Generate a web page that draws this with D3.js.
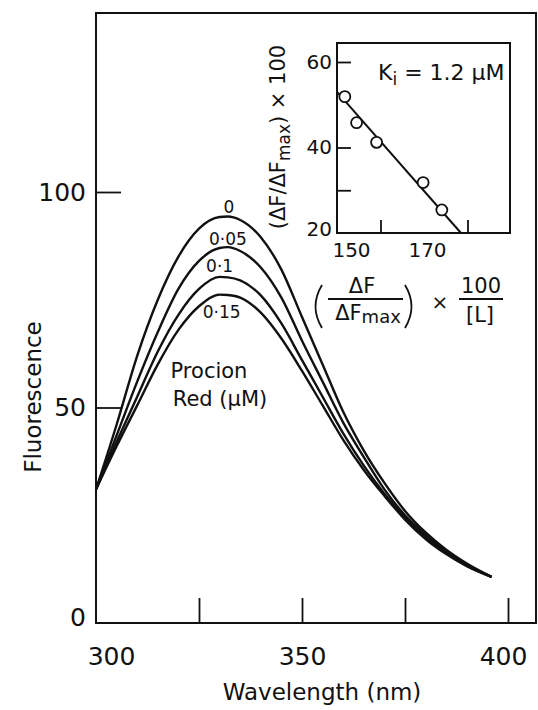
<!DOCTYPE html>
<html>
<head>
<meta charset="utf-8">
<script src="https://cdn.jsdelivr.net/npm/d3@7"></script>
<style>
  body { margin: 0; background: #fff; }
  text { font-family: "DejaVu Sans", sans-serif; fill: #111; }
</style>
</head>
<body>
<div id="chart"></div>
<script>
// emission spectra
var wavelengths = [300, 305, 310, 315, 320, 325, 330, 332, 335, 340, 345, 350, 355, 360, 365, 370, 375, 380, 385, 390, 396];
var concLabels = ["0", "0·05", "0·1", "0·15"];
var fl0    = [31, 46, 62, 75, 85, 91.5, 94.2, 94.3, 93.5, 89.5, 82, 71, 60, 49, 40, 32.5, 26, 21, 17, 13.8, 10.7];
var fl005  = [31, 43.5, 56, 67.5, 77.5, 84, 87, 87.2, 86.3, 82.5, 75.5, 65.5, 56, 46.5, 38.5, 31, 25, 20.5, 16.5, 13.5, 10.7];
var fl01   = [31, 42, 52.5, 63, 71.5, 77.5, 80.3, 80.2, 79.5, 76, 69.5, 61, 52.5, 44, 36.5, 30, 24.5, 20, 16.2, 13.3, 10.7];
var fl015  = [31, 41, 50.5, 60, 68, 73.5, 76.2, 76.1, 75.5, 72, 66, 58.5, 50.5, 42.5, 35.5, 29.5, 24, 19.5, 16, 13.2, 10.7];

var xTicks = [325, 350, 375, 400];
var xLabels = [300, 350, 400];
var yTicks = [50, 100];
var yLabels = [0, 50, 100];

// inset: Dixon-type plot
var insetX = [151.8, 154.5, 159.1, 169.8, 174.1];
var insetY = [51.9, 45.8, 41.2, 31.8, 25.4];
var fitX = [150, 178.5];
var fitY = [53, 20];
var insetXTicks = [160, 180];
var insetXLabels = [150, 170];
var insetYTicks = [30, 40, 60];
var insetYLabels = [20, 40, 60];

var W = 538, H = 710;

var svg = d3.select("#chart").append("svg")
    .attr("width", W)
    .attr("height", H);

// main scales
var x = d3.scaleLinear().domain([300, 400]).range([96, 508]);
var y = d3.scaleLinear().domain([0, 100]).range([623, 192]);

// frame
svg.append("rect")
    .attr("x", 96).attr("y", 13)
    .attr("width", 536 - 96).attr("height", 623 - 13)
    .attr("fill", "none").attr("stroke", "#111").attr("stroke-width", 2);

// tick marks (inside)
var xTickAxis = svg.append("g")
    .attr("transform", "translate(0,623)")
    .call(d3.axisBottom(x).tickValues(xTicks).tickSizeInner(-25).tickSizeOuter(0).tickFormat(""));
var yTickAxis = svg.append("g")
    .attr("transform", "translate(96,0)")
    .call(d3.axisLeft(y).tickValues(yTicks).tickSizeInner(-25).tickSizeOuter(0).tickFormat(""));
[xTickAxis, yTickAxis].forEach(function(g) {
    g.select(".domain").remove();
    g.selectAll("line").attr("stroke", "#111").attr("stroke-width", 1.8);
});

// tick labels
var xLabAxis = svg.append("g")
    .attr("transform", "translate(0,623)")
    .call(d3.axisBottom(x).tickValues(xLabels).tickSize(0).tickPadding(24));
xLabAxis.select(".domain").remove();
xLabAxis.selectAll("text")
    .attr("font-size", 25).attr("font-family", "DejaVu Sans").attr("fill", "#111")
    .attr("dx", function(d) { return d === 300 ? 15 : (d === 400 ? -5 : 0); });

var yLabAxis = svg.append("g")
    .attr("transform", "translate(96,0)")
    .call(d3.axisLeft(y).tickValues(yLabels).tickSize(0).tickPadding(10));
yLabAxis.select(".domain").remove();
yLabAxis.selectAll("text")
    .attr("font-size", 25).attr("font-family", "DejaVu Sans").attr("fill", "#111")
    .attr("dy", function(d) { return d === 0 ? "0.1em" : "0.32em"; });

// axis titles
svg.append("text")
    .attr("x", 322).attr("y", 700)
    .attr("text-anchor", "middle").attr("font-size", 23)
    .text("Wavelength (nm)");
svg.append("text")
    .attr("transform", "translate(41,397) rotate(-90)")
    .attr("text-anchor", "middle").attr("font-size", 23)
    .text("Fluorescence");

// spectra
var series = [fl0, fl005, fl01, fl015];
var line = d3.line()
    .x(function(d, i) { return x(wavelengths[i]); })
    .y(function(d) { return y(d); })
    .curve(d3.curveMonotoneX);

svg.append("g").selectAll("path")
    .data(series)
    .enter().append("path")
    .attr("d", line)
    .attr("fill", "none")
    .attr("stroke", "#111")
    .attr("stroke-width", 2.4);

// concentration labels next to each peak
var labelShift = [-10, -8, -11, 17];
var labelDx = [1, 0, 0, 2];
svg.append("g").selectAll("text")
    .data(series)
    .enter().append("text")
    .attr("x", function(d, i) {
        var k = d.indexOf(d3.max(d));
        return x(wavelengths[k]) + labelDx[i];
    })
    .attr("y", function(d, i) { return y(d3.max(d)) + labelShift[i]; })
    .attr("dy", "0.35em")
    .attr("text-anchor", "middle")
    .attr("font-size", 17)
    .text(function(d, i) { return concLabels[i]; });

svg.append("text")
    .attr("x", 209).attr("y", 378)
    .attr("text-anchor", "middle").attr("font-size", 21)
    .text("Procion");
svg.append("text")
    .attr("x", 220).attr("y", 406)
    .attr("text-anchor", "middle").attr("font-size", 21)
    .text("Red (μM)");

// ---- inset ----
var ix = d3.scaleLinear().domain([150, 190]).range([337, 511]);
var iy = d3.scaleLinear().domain([20, 60]).range([233, 62]);

var inset = svg.append("g");
inset.append("rect")
    .attr("x", 337).attr("y", 43)
    .attr("width", 510 - 337).attr("height", 233 - 43)
    .attr("fill", "#fff").attr("stroke", "#111").attr("stroke-width", 2);

var ixTick = inset.append("g")
    .attr("transform", "translate(0,233)")
    .call(d3.axisBottom(ix).tickValues(insetXTicks).tickSizeInner(-13).tickSizeOuter(0).tickFormat(""));
var iyTick = inset.append("g")
    .attr("transform", "translate(337,0)")
    .call(d3.axisLeft(iy).tickValues(insetYTicks).tickSizeInner(-14).tickSizeOuter(0).tickFormat(""));
[ixTick, iyTick].forEach(function(g) {
    g.select(".domain").remove();
    g.selectAll("line").attr("stroke", "#111").attr("stroke-width", 1.8);
});

var ixLab = inset.append("g")
    .attr("transform", "translate(0,233)")
    .call(d3.axisBottom(ix).tickValues(insetXLabels).tickSize(0).tickPadding(10));
ixLab.select(".domain").remove();
ixLab.selectAll("text")
    .attr("font-size", 20).attr("font-family", "DejaVu Sans").attr("fill", "#111")
    .attr("dx", function(d) { return d === 150 ? 14 : 3; });

var iyLab = inset.append("g")
    .attr("transform", "translate(337,0)")
    .call(d3.axisLeft(iy).tickValues(insetYLabels).tickSize(0).tickPadding(5));
iyLab.select(".domain").remove();
iyLab.selectAll("text")
    .attr("font-size", 20).attr("font-family", "DejaVu Sans").attr("fill", "#111")
    .attr("dy", function(d) { return d === 20 ? "0.1em" : "0.32em"; });

inset.append("path")
    .datum(d3.zip(fitX, fitY))
    .attr("d", d3.line().x(function(d) { return ix(d[0]); }).y(function(d) { return iy(d[1]); }))
    .attr("stroke", "#111").attr("stroke-width", 2).attr("fill", "none");

inset.append("g").selectAll("circle")
    .data(d3.zip(insetX, insetY))
    .enter().append("circle")
    .attr("cx", function(d) { return ix(d[0]); })
    .attr("cy", function(d) { return iy(d[1]); })
    .attr("r", 5.5)
    .attr("fill", "#fff").attr("stroke", "#111").attr("stroke-width", 1.8);

// Ki annotation
var ki = inset.append("text")
    .attr("x", 378).attr("y", 80).attr("font-size", 22);
ki.append("tspan").text("K");
ki.append("tspan").attr("dy", 5).attr("font-size", 17).text("i");
ki.append("tspan").attr("dy", -5).text(" = 1.2 μM");

// inset y title
var iyt = svg.append("text")
    .attr("transform", "translate(285,137) rotate(-90)")
    .attr("text-anchor", "middle").attr("font-size", 21);
iyt.append("tspan").text("(ΔF/ΔF");
iyt.append("tspan").attr("dy", 5).attr("font-size", 17).text("max");
iyt.append("tspan").attr("dy", -5).text(") × 100");

// inset x title: (ΔF / ΔFmax) × 100 / [L]
var xt = svg.append("g");
xt.append("path")
    .attr("d", "M322,285 Q309,306.5 322,328")
    .attr("fill", "none").attr("stroke", "#111").attr("stroke-width", 1.8);
xt.append("path")
    .attr("d", "M405,285 Q418,306.5 405,328")
    .attr("fill", "none").attr("stroke", "#111").attr("stroke-width", 1.8);
xt.append("text")
    .attr("x", 362).attr("y", 293).attr("text-anchor", "middle").attr("font-size", 21)
    .text("ΔF");
xt.append("line")
    .attr("x1", 328).attr("x2", 403).attr("y1", 299).attr("y2", 299)
    .attr("stroke", "#111").attr("stroke-width", 1.8);
var fm = xt.append("text")
    .attr("x", 368).attr("y", 320).attr("text-anchor", "middle").attr("font-size", 21);
fm.append("tspan").text("ΔF");
fm.append("tspan").attr("dy", 3).attr("font-size", 18).text("max");
xt.append("text")
    .attr("x", 440).attr("y", 309).attr("text-anchor", "middle").attr("font-size", 20)
    .text("×");
xt.append("text")
    .attr("x", 481).attr("y", 293).attr("text-anchor", "middle").attr("font-size", 21)
    .text("100");
xt.append("line")
    .attr("x1", 459).attr("x2", 503).attr("y1", 299).attr("y2", 299)
    .attr("stroke", "#111").attr("stroke-width", 1.8);
xt.append("text")
    .attr("x", 480).attr("y", 322).attr("text-anchor", "middle").attr("font-size", 21)
    .text("[L]");
</script>
</body>
</html>
